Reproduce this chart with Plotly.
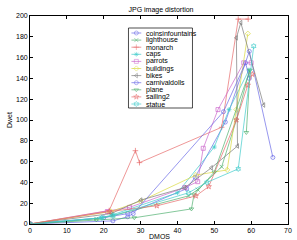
import plotly.graph_objects as go

title = "JPG image distortion"
x_label = "DMOS"
y_label = "Dwet"

names = ["coinsinfountains", "lighthouse", "monarch", "caps", "parrots", "buildings",
         "bikes", "carnivaldolls", "plane", "sailing2", "statue"]

xs = {
    "coinsinfountains": [0, 20, 26.5, 42.5, 44.8, 53, 59.5, 65.9],
    "lighthouse": [0, 18, 22.5, 43, 45.5, 52, 56, 59.5],
    "monarch": [0, 21.5, 28.6, 29.7, 52, 56.5, 59.2],
    "caps": [0, 19.5, 22.5, 40, 50, 54, 59.4],
    "parrots": [0, 21, 27, 42, 45.5, 47, 51, 58, 60],
    "buildings": [0, 22, 30, 45, 53.5, 56, 59.1],
    "bikes": [0, 22, 30.1, 42, 49.2, 56.3, 56, 57.2, 63.4],
    "carnivaldolls": [0, 22.5, 26.5, 28, 52.5, 58.5, 59.5],
    "plane": [0, 18, 28.3, 43.8, 44.5, 50, 59.7, 58.7],
    "sailing2": [0, 21.5, 34.4, 45, 48.5, 56, 59.1, 60.3],
    "statue": [0, 19.5, 22.5, 43, 48, 56.5, 60.7],
}
ys = {
    "coinsinfountains": [0, 6, 10, 34, 45, 98, 166, 64],
    "lighthouse": [0, 5, 8, 27, 33, 55, 100, 147],
    "monarch": [0, 13, 70.5, 59, 93, 197, 197],
    "caps": [0, 6, 9, 30, 74, 110, 148],
    "parrots": [0, 12, 16, 35, 40.7, 72.8, 110, 155, 155],
    "buildings": [0, 12, 22, 47, 52, 110, 183],
    "bikes": [0, 10, 23, 35, 54, 75, 179, 193.6, 114.4],
    "carnivaldolls": [0, 3, 7, 10, 108, 155, 140],
    "plane": [0, 4, 6, 14.5, 28, 50, 148, 88],
    "sailing2": [0, 12, 17.5, 27, 36, 100, 133.5, 144],
    "statue": [0, 6, 8, 30, 40, 53, 171],
}

x_ticks = [0, 10, 20, 30, 40, 50, 60, 70]
y_ticks = [0, 20, 40, 60, 80, 100, 120, 140, 160, 180, 200]

B, G, R, C, M, Y, K = "#6a6ae6", "#50b070", "#e66a6a", "#40cccc", "#cc66cc", "#dada40", "#7a7a7a"
colors = [B, G, R, C, M, Y, K, B, G, R, C]
symbols = ["circle-open", "x-thin-open", "cross-thin-open", "asterisk-open", "square-open",
           "diamond-open", "triangle-left-open", "circle-open", "triangle-down-open",
           "star-open", "hexagram-open"]

fig = go.Figure()
for n, c, s in zip(names, colors, symbols):
    fig.add_trace(go.Scatter(
        x=xs[n], y=ys[n], mode="lines+markers", name=n,
        line=dict(color=c, width=0.7),
        marker=dict(symbol=s, size=4, color=c, line=dict(color=c, width=0.7)),
        showlegend=False,
    ))

# manual legend drawn on a pixel-based overlay axis
lx0, lx1, ly0, ly1 = 130, 195, 28, 108
fig.add_trace(go.Scatter(
    x=[lx0, lx1, lx1, lx0, lx0], y=[ly0, ly0, ly1, ly1, ly0],
    xaxis="x2", yaxis="y2", mode="lines", fill="toself", fillcolor="white",
    line=dict(color="black", width=0.7), showlegend=False, hoverinfo="skip"))
for i, (n, c, s) in enumerate(zip(names, colors, symbols)):
    yy = 33 + 7.1 * i
    fig.add_trace(go.Scatter(
        x=[133, 138, 143], y=[yy, yy, yy], xaxis="x2", yaxis="y2",
        mode="lines+markers", line=dict(color=c, width=0.7),
        marker=dict(symbol=s, size=[0, 4, 0], color=c, line=dict(color=c, width=0.7)),
        showlegend=False, hoverinfo="skip"))
    fig.add_annotation(x=146, y=yy, xref="x2", yref="y2", text=n, showarrow=False,
                       xanchor="left", yanchor="middle",
                       font=dict(size=7, color="black"))

# x-axis title placed as an annotation just under the tick labels
fig.add_annotation(x=0.5, y=-(236 - 224) / 208, xref="paper", yref="paper",
                   text=x_label, showarrow=False, xanchor="center", yanchor="middle",
                   font=dict(size=7, color="black"))

fig.update_layout(
    width=297, height=240,
    margin=dict(l=30, r=5, t=16, b=16),
    paper_bgcolor="white", plot_bgcolor="white",
    font=dict(family="Liberation Sans, Arial, sans-serif", size=7, color="black"),
    title=dict(text=title, x=(30 + 292) / 2 / 297, xanchor="center",
               y=1 - 10 / 240, yanchor="middle", font=dict(size=7)),
    xaxis=dict(range=[0, 70], tickvals=x_ticks, showgrid=False, zeroline=False,
               showline=True, mirror="ticks", linecolor="black", linewidth=0.7,
               ticks="inside", ticklen=3, tickcolor="black", tickwidth=0.7,
               tickfont=dict(size=7)),
    yaxis=dict(range=[0, 200], tickvals=y_ticks, showgrid=False, zeroline=False,
               showline=True, mirror="ticks", linecolor="black", linewidth=0.7,
               ticks="inside", ticklen=3, tickcolor="black", tickwidth=0.7,
               tickfont=dict(size=7),
               title=dict(text=y_label, standoff=2, font=dict(size=7))),
    xaxis2=dict(overlaying="x", range=[30, 292], visible=False, fixedrange=True),
    yaxis2=dict(overlaying="y", range=[224, 16], visible=False, fixedrange=True),
)

fig.write_html(
    "out.html",
    config={"displayModeBar": False},
    post_script="document.body.style.margin='0';document.body.style.overflow='hidden';",
)
